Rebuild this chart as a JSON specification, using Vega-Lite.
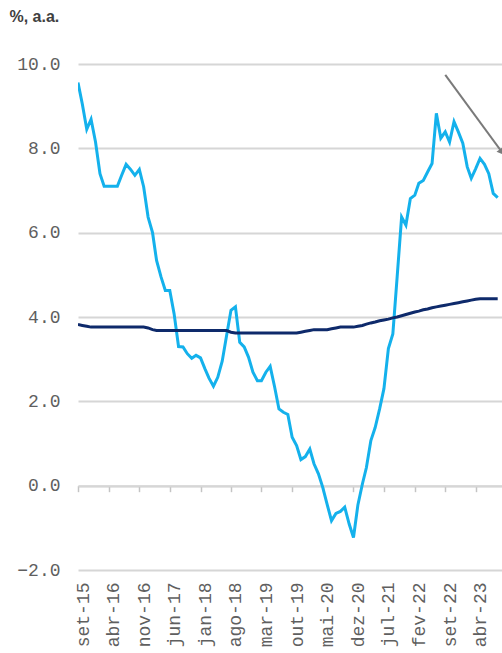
{
  "$schema": "https://vega.github.io/schema/vega-lite/v6.json",
  "autosize": {"type": "none"},
  "padding": {"left": 78, "top": 64, "right": 0, "bottom": 83},
  "width": 424,
  "height": 506,
  "background": "white",
  "config": {"view": {"stroke": null}},
  "datasets": {
    "series": [
      {"d": "2015-09-01", "a": 9.56, "b": 3.82},
      {"d": "2015-10-01", "a": 9.05, "b": 3.80},
      {"d": "2015-11-01", "a": 8.45, "b": 3.78},
      {"d": "2015-12-01", "a": 8.69, "b": 3.76},
      {"d": "2016-01-01", "a": 8.15, "b": 3.76},
      {"d": "2016-02-01", "a": 7.40, "b": 3.76},
      {"d": "2016-03-01", "a": 7.10, "b": 3.76},
      {"d": "2016-04-01", "a": 7.10, "b": 3.76},
      {"d": "2016-05-01", "a": 7.10, "b": 3.76},
      {"d": "2016-06-01", "a": 7.10, "b": 3.76},
      {"d": "2016-07-01", "a": 7.36, "b": 3.76},
      {"d": "2016-08-01", "a": 7.62, "b": 3.76},
      {"d": "2016-09-01", "a": 7.50, "b": 3.76},
      {"d": "2016-10-01", "a": 7.36, "b": 3.76},
      {"d": "2016-11-01", "a": 7.50, "b": 3.76},
      {"d": "2016-12-01", "a": 7.09, "b": 3.76},
      {"d": "2017-01-01", "a": 6.37, "b": 3.74},
      {"d": "2017-02-01", "a": 6.00, "b": 3.70},
      {"d": "2017-03-01", "a": 5.34, "b": 3.68},
      {"d": "2017-04-01", "a": 4.95, "b": 3.68},
      {"d": "2017-05-01", "a": 4.63, "b": 3.68},
      {"d": "2017-06-01", "a": 4.63, "b": 3.68},
      {"d": "2017-07-01", "a": 4.08, "b": 3.68},
      {"d": "2017-08-01", "a": 3.30, "b": 3.68},
      {"d": "2017-09-01", "a": 3.29, "b": 3.68},
      {"d": "2017-10-01", "a": 3.13, "b": 3.68},
      {"d": "2017-11-01", "a": 3.02, "b": 3.68},
      {"d": "2017-12-01", "a": 3.09, "b": 3.68},
      {"d": "2018-01-01", "a": 3.03, "b": 3.68},
      {"d": "2018-02-01", "a": 2.77, "b": 3.68},
      {"d": "2018-03-01", "a": 2.55, "b": 3.68},
      {"d": "2018-04-01", "a": 2.36, "b": 3.68},
      {"d": "2018-05-01", "a": 2.57, "b": 3.68},
      {"d": "2018-06-01", "a": 2.95, "b": 3.68},
      {"d": "2018-07-01", "a": 3.55, "b": 3.68},
      {"d": "2018-08-01", "a": 4.16, "b": 3.64},
      {"d": "2018-09-01", "a": 4.24, "b": 3.62},
      {"d": "2018-10-01", "a": 3.40, "b": 3.62},
      {"d": "2018-11-01", "a": 3.29, "b": 3.62},
      {"d": "2018-12-01", "a": 3.05, "b": 3.62},
      {"d": "2019-01-01", "a": 2.69, "b": 3.62},
      {"d": "2019-02-01", "a": 2.49, "b": 3.62},
      {"d": "2019-03-01", "a": 2.49, "b": 3.62},
      {"d": "2019-04-01", "a": 2.69, "b": 3.62},
      {"d": "2019-05-01", "a": 2.83, "b": 3.62},
      {"d": "2019-06-01", "a": 2.34, "b": 3.62},
      {"d": "2019-07-01", "a": 1.82, "b": 3.62},
      {"d": "2019-08-01", "a": 1.74, "b": 3.62},
      {"d": "2019-09-01", "a": 1.69, "b": 3.62},
      {"d": "2019-10-01", "a": 1.15, "b": 3.62},
      {"d": "2019-11-01", "a": 0.95, "b": 3.62},
      {"d": "2019-12-01", "a": 0.62, "b": 3.64},
      {"d": "2020-01-01", "a": 0.69, "b": 3.66},
      {"d": "2020-02-01", "a": 0.87, "b": 3.68},
      {"d": "2020-03-01", "a": 0.52, "b": 3.70},
      {"d": "2020-04-01", "a": 0.28, "b": 3.70},
      {"d": "2020-05-01", "a": -0.04, "b": 3.70},
      {"d": "2020-06-01", "a": -0.45, "b": 3.70},
      {"d": "2020-07-01", "a": -0.83, "b": 3.72},
      {"d": "2020-08-01", "a": -0.66, "b": 3.74},
      {"d": "2020-09-01", "a": -0.61, "b": 3.76},
      {"d": "2020-10-01", "a": -0.51, "b": 3.76},
      {"d": "2020-11-01", "a": -0.91, "b": 3.76},
      {"d": "2020-12-01", "a": -1.23, "b": 3.76},
      {"d": "2021-01-01", "a": -0.45, "b": 3.78},
      {"d": "2021-02-01", "a": 0.04, "b": 3.80},
      {"d": "2021-03-01", "a": 0.43, "b": 3.83},
      {"d": "2021-04-01", "a": 1.07, "b": 3.86},
      {"d": "2021-05-01", "a": 1.38, "b": 3.88},
      {"d": "2021-06-01", "a": 1.82, "b": 3.91},
      {"d": "2021-07-01", "a": 2.30, "b": 3.93},
      {"d": "2021-08-01", "a": 3.25, "b": 3.95},
      {"d": "2021-09-01", "a": 3.60, "b": 3.98},
      {"d": "2021-10-01", "a": 4.95, "b": 4.00},
      {"d": "2021-11-01", "a": 6.37, "b": 4.03},
      {"d": "2021-12-01", "a": 6.18, "b": 4.06},
      {"d": "2022-01-01", "a": 6.81, "b": 4.09},
      {"d": "2022-02-01", "a": 6.89, "b": 4.12},
      {"d": "2022-03-01", "a": 7.17, "b": 4.14},
      {"d": "2022-04-01", "a": 7.24, "b": 4.17},
      {"d": "2022-05-01", "a": 7.44, "b": 4.19},
      {"d": "2022-06-01", "a": 7.64, "b": 4.22},
      {"d": "2022-07-01", "a": 8.83, "b": 4.24},
      {"d": "2022-08-01", "a": 8.24, "b": 4.26},
      {"d": "2022-09-01", "a": 8.39, "b": 4.28},
      {"d": "2022-10-01", "a": 8.15, "b": 4.30},
      {"d": "2022-11-01", "a": 8.63, "b": 4.32},
      {"d": "2022-12-01", "a": 8.39, "b": 4.34},
      {"d": "2023-01-01", "a": 8.12, "b": 4.36},
      {"d": "2023-02-01", "a": 7.56, "b": 4.38},
      {"d": "2023-03-01", "a": 7.29, "b": 4.40},
      {"d": "2023-04-01", "a": 7.52, "b": 4.42},
      {"d": "2023-05-01", "a": 7.76, "b": 4.43},
      {"d": "2023-06-01", "a": 7.62, "b": 4.43},
      {"d": "2023-07-01", "a": 7.40, "b": 4.43},
      {"d": "2023-08-01", "a": 6.93, "b": 4.43},
      {"d": "2023-09-01", "a": 6.83, "b": 4.43}
    ],
    "arrow": [
      {"x1": "2022-09-01", "y1": 9.74, "x2": "2023-10-01", "y2": 7.91}
    ]
  },
  "resolve": {"axis": {"x": "independent", "y": "independent"}},
  "layer": [
    {
      "data": {"name": "series"},
      "mark": {"type": "line", "color": "#14B1EC", "strokeWidth": 3, "clip": true},
      "encoding": {
        "x": {
          "field": "d", "type": "temporal",
          "scale": {"type": "utc", "domain": [{"year": 2015, "month": 9, "date": 1, "utc": true}, {"year": 2023, "month": 10, "date": 1, "utc": true}]},
          "axis": {
            "orient": "bottom",
            "values": [
              {"year": 2015, "month": 9, "date": 1, "utc": true},
              {"year": 2016, "month": 4, "date": 1, "utc": true},
              {"year": 2016, "month": 11, "date": 1, "utc": true},
              {"year": 2017, "month": 6, "date": 1, "utc": true},
              {"year": 2018, "month": 1, "date": 1, "utc": true},
              {"year": 2018, "month": 8, "date": 1, "utc": true},
              {"year": 2019, "month": 3, "date": 1, "utc": true},
              {"year": 2019, "month": 10, "date": 1, "utc": true},
              {"year": 2020, "month": 5, "date": 1, "utc": true},
              {"year": 2020, "month": 12, "date": 1, "utc": true},
              {"year": 2021, "month": 7, "date": 1, "utc": true},
              {"year": 2022, "month": 2, "date": 1, "utc": true},
              {"year": 2022, "month": 9, "date": 1, "utc": true},
              {"year": 2023, "month": 4, "date": 1, "utc": true}
            ],
            "labelExpr": "['jan','fev','mar','abr','mai','jun','jul','ago','set','out','nov','dez'][utcmonth(datum.value)] + '-' + utcFormat(datum.value, '%y')",
            "labelAngle": -90,
            "labelFont": "Liberation Mono",
            "labelFontSize": 18,
            "labelColor": "#5F5F5F",
            "labelPadding": 12,
            "labelOffset": 5,
            "labelOverlap": false,
            "labelFlush": false,
            "labelBound": false,
            "ticks": false,
            "domain": false,
            "grid": false,
            "title": null
          }
        },
        "y": {
          "field": "a", "type": "quantitative",
          "scale": {"domain": [-2, 10], "nice": false},
          "axis": {
            "orient": "left",
            "values": [-2, 0, 2, 4, 6, 8, 10],
            "format": ".1f",
            "labelFont": "Liberation Mono",
            "labelFontSize": 18,
            "labelColor": "#5F5F5F",
            "labelPadding": 18,
            "ticks": false,
            "domain": false,
            "grid": true,
            "gridColor": "#D6D6D6",
            "gridWidth": 2,
            "title": "%, a.a.",
            "titleAngle": 0,
            "titleAlign": "left",
            "titleBaseline": "middle",
            "titleX": -69,
            "titleY": -48,
            "titleFont": "Liberation Sans",
            "titleFontSize": 16,
            "titleFontWeight": "bold",
            "titleColor": "#404040"
          }
        }
      }
    },
    {
      "data": {"name": "series"},
      "mark": {"type": "line", "color": "#0E2A6B", "strokeWidth": 3, "clip": true},
      "encoding": {
        "x": {
          "field": "d", "type": "temporal",
          "axis": {
            "orient": "bottom",
            "values": [
              {"year": 2015, "month": 9, "date": 1, "utc": true},
              {"year": 2016, "month": 4, "date": 1, "utc": true},
              {"year": 2016, "month": 11, "date": 1, "utc": true},
              {"year": 2017, "month": 6, "date": 1, "utc": true},
              {"year": 2018, "month": 1, "date": 1, "utc": true},
              {"year": 2018, "month": 8, "date": 1, "utc": true},
              {"year": 2019, "month": 3, "date": 1, "utc": true},
              {"year": 2019, "month": 10, "date": 1, "utc": true},
              {"year": 2020, "month": 5, "date": 1, "utc": true},
              {"year": 2020, "month": 12, "date": 1, "utc": true},
              {"year": 2021, "month": 7, "date": 1, "utc": true},
              {"year": 2022, "month": 2, "date": 1, "utc": true},
              {"year": 2022, "month": 9, "date": 1, "utc": true},
              {"year": 2023, "month": 4, "date": 1, "utc": true}
            ],
            "labels": false,
            "grid": false,
            "domain": true,
            "domainColor": "#D6D6D6",
            "domainWidth": 2,
            "ticks": true,
            "tickColor": "#C4C4C4",
            "tickSize": 6,
            "tickWidth": 1.5,
            "offset": -84.33,
            "title": null
          }
        },
        "y": {
          "field": "b", "type": "quantitative",
          "scale": {"domain": [-2, 10], "nice": false},
          "axis": null
        }
      }
    },
    {
      "data": {"name": "arrow"},
      "mark": {"type": "rule", "color": "#7A7A7A", "strokeWidth": 2},
      "encoding": {
        "x": {"field": "x1", "type": "temporal", "axis": null},
        "x2": {"field": "x2"},
        "y": {"field": "y1", "type": "quantitative", "axis": null},
        "y2": {"field": "y2"}
      }
    },
    {
      "data": {"name": "arrow"},
      "mark": {"type": "point", "shape": "triangle-down", "filled": true, "color": "#7A7A7A", "size": 70, "angle": 324, "opacity": 1},
      "encoding": {
        "x": {"field": "x2", "type": "temporal", "axis": null},
        "y": {"field": "y2", "type": "quantitative", "axis": null}
      }
    }
  ]
}
